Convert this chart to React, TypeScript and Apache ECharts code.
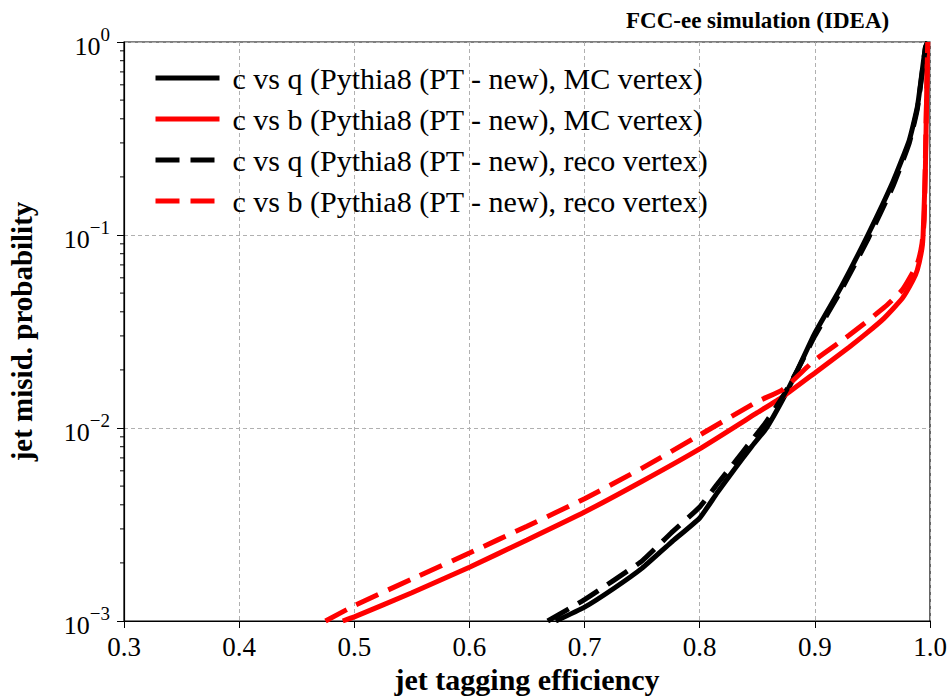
import React, { useEffect, useRef } from "react";
import * as echarts from "echarts";

// ---- data ----
const cqMcEff = [0.675, 0.70, 0.725, 0.75, 0.775, 0.80, 0.815, 0.83, 0.845, 0.858, 0.872, 0.885, 0.90, 0.923, 0.946, 0.968, 0.982, 0.989, 0.993, 0.996, 0.998];
const cqMcMis = [1.0e-3, 1.18e-3, 1.47e-3, 1.88e-3, 2.55e-3, 3.42e-3, 4.6e-3, 6.1e-3, 8.0e-3, 1.0e-2, 1.4e-2, 2.0e-2, 3.1e-2, 5.4e-2, 0.1, 0.19, 0.31, 0.46, 0.69, 0.94, 1.0];

const cbMcEff = [0.49, 0.50, 0.55, 0.60, 0.65, 0.70, 0.75, 0.80, 0.85, 0.872, 0.90, 0.93, 0.945, 0.96, 0.976, 0.985, 0.989, 0.993, 0.994, 0.996, 0.997, 0.998];
const cbMcMis = [1.0e-3, 1.05e-3, 1.4e-3, 1.9e-3, 2.63e-3, 3.67e-3, 5.3e-3, 7.8e-3, 1.2e-2, 1.45e-2, 1.93e-2, 2.63e-2, 3.1e-2, 3.7e-2, 4.7e-2, 5.8e-2, 6.6e-2, 8.5e-2, 0.1, 0.22, 0.5, 1.0];

const cqRecoEff = [0.668, 0.70, 0.725, 0.75, 0.775, 0.80, 0.815, 0.83, 0.845, 0.858, 0.872, 0.885, 0.90, 0.923, 0.946, 0.968, 0.982, 0.989, 0.993, 0.996, 0.998];
const cqRecoMis = [1.0e-3, 1.29e-3, 1.62e-3, 2.05e-3, 2.85e-3, 3.9e-3, 5.1e-3, 6.6e-3, 8.6e-3, 1.08e-2, 1.45e-2, 2.0e-2, 3.0e-2, 5.2e-2, 0.095, 0.18, 0.30, 0.45, 0.68, 0.93, 1.0];

const cbRecoEff = [0.475, 0.50, 0.55, 0.60, 0.65, 0.70, 0.75, 0.80, 0.85, 0.872, 0.90, 0.93, 0.96, 0.976, 0.989, 0.993, 0.995, 0.996, 0.997, 0.998];
const cbRecoMis = [1.0e-3, 1.2e-3, 1.65e-3, 2.25e-3, 3.1e-3, 4.3e-3, 6.2e-3, 9.2e-3, 1.37e-2, 1.58e-2, 2.25e-2, 3.03e-2, 4.2e-2, 5.2e-2, 7.1e-2, 9.0e-2, 0.12, 0.25, 0.5, 1.0];

const seriesNames = [
  "c vs q (Pythia8 (PT - new), MC vertex)",
  "c vs b (Pythia8 (PT - new), MC vertex)",
  "c vs q (Pythia8 (PT - new), reco vertex)",
  "c vs b (Pythia8 (PT - new), reco vertex)",
];

const xMin = 0.3;
const xMax = 1.0;
const xStep = 0.1;
const yMin = 1e-3;
const yMax = 1;
const yMinorTicks = [0.002, 0.003, 0.004, 0.005, 0.006, 0.007, 0.008, 0.009, 0.02, 0.03, 0.04, 0.05, 0.06, 0.07, 0.08, 0.09, 0.2, 0.3, 0.4, 0.5, 0.6, 0.7, 0.8, 0.9];

const titleText = "FCC-ee simulation (IDEA)";
const xTitle = "jet tagging efficiency";
const yTitle = "jet misid. probability";

const zip = (xs: number[], ys: number[]) => xs.map((x, i) => [x, ys[i]]);

const FONT = "Liberation Serif";

export default function App() {
  const ref = useRef<HTMLDivElement>(null);
  useEffect(() => {
    if (!ref.current) return;
    const chart = echarts.init(ref.current, undefined, { renderer: "svg" });
    const lineBase = (name: string, data: number[][], color: string, dashed: boolean) => ({
      name,
      type: "line",
      data,
      showSymbol: false,
      symbol: "none",
      smooth: 0.15,
      lineStyle: { color, width: 5, type: dashed ? [24, 11] : "solid", cap: "butt" },
      itemStyle: { color },
      z: 3,
    });
    chart.setOption({
      animation: false,
      textStyle: { fontFamily: FONT },
      title: {
        text: titleText,
        left: 621,
        top: 4,
        textStyle: { fontFamily: FONT, fontWeight: "bold", fontSize: 23, color: "#000" },
      },
      legend: {
        orient: "vertical",
        left: 148,
        top: 58,
        itemWidth: 64,
        itemHeight: 6,
        itemGap: 11,
        data: seriesNames,
        itemStyle: { opacity: 0 },
        lineStyle: { width: 5 },
        textStyle: { fontFamily: FONT, fontSize: 30, color: "#000", padding: [0, 0, 0, 8] },
      },
      grid: {
        left: 124,
        right: 20,
        top: 42,
        bottom: 77,
        outerBoundsMode: "none",
        containLabel: false,
        show: true,
        borderColor: "#000",
        borderWidth: 1.2,
        backgroundColor: "transparent",
      },
      xAxis: {
        type: "value",
        min: xMin,
        max: xMax,
        interval: xStep,
        name: xTitle,
        nameLocation: "middle",
        nameMoveOverlap: false,
        nameGap: 41,
        nameTextStyle: { fontFamily: FONT, fontWeight: "bold", fontSize: 30, lineHeight: 34, color: "#000", verticalAlign: "top" },
        axisLine: { show: true, lineStyle: { color: "#000", width: 1.2 } },
        axisTick: { show: true, length: 7, inside: false, lineStyle: { color: "#000" } },
        axisLabel: {
          fontFamily: FONT,
          fontSize: 27,
          lineHeight: 26,
          color: "#000",
          margin: 13,
          formatter: (v: number) => v.toFixed(1),
        },
        splitLine: { show: true, lineStyle: { color: "#b0b0b0", type: [4, 3], width: 1 } },
      },
      yAxis: {
        type: "log",
        logBase: 10,
        min: yMin,
        max: yMax,
        name: yTitle,
        nameLocation: "middle",
        nameGap: 88,
        nameTextStyle: { fontFamily: FONT, fontWeight: "bold", fontSize: 29, color: "#000" },
        axisLine: { show: true, lineStyle: { color: "#000", width: 1.2 } },
        axisTick: { show: true, length: 7, inside: false, lineStyle: { color: "#000" } },
        axisLabel: {
          fontFamily: FONT,
          color: "#000",
          margin: 14,
          formatter: (v: number) => {
            const e = Math.round(Math.log10(v));
            const s = e < 0 ? "\u2212" + Math.abs(e) : String(e);
            return "{b|10}{s|" + s + "}";
          },
          rich: {
            b: { fontFamily: FONT, fontSize: 26, color: "#000", lineHeight: 34, verticalAlign: "bottom" },
            s: { fontFamily: FONT, fontSize: 19, color: "#000", lineHeight: 34, verticalAlign: "top", padding: [0, 0, 12, 0] },
          },
        },
        splitLine: { show: true, lineStyle: { color: "#b0b0b0", type: [4, 3], width: 1 } },
      },
      series: [
        lineBase(seriesNames[0], zip(cqMcEff, cqMcMis), "#000000", false),
        lineBase(seriesNames[1], zip(cbMcEff, cbMcMis), "#ff0000", false),
        lineBase(seriesNames[2], zip(cqRecoEff, cqRecoMis), "#000000", true),
        lineBase(seriesNames[3], zip(cbRecoEff, cbRecoMis), "#ff0000", true),
        {
          name: "minorTicks",
          type: "custom",
          silent: true,
          clip: false,
          z: 5,
          data: yMinorTicks.map((v) => [xMin, v]),
          renderItem: (_p: any, api: any) => {
            const pt = api.coord([api.value(0), api.value(1)]);
            return {
              type: "line",
              shape: { x1: pt[0] - 4, y1: pt[1], x2: pt[0], y2: pt[1] },
              style: { stroke: "#000", lineWidth: 1 },
            };
          },
        },
      ],
    });
    return () => chart.dispose();
  }, []);
  return <div ref={ref} style={{ width: 950, height: 698, position: "absolute", left: 0, top: 0 }} />;
}
